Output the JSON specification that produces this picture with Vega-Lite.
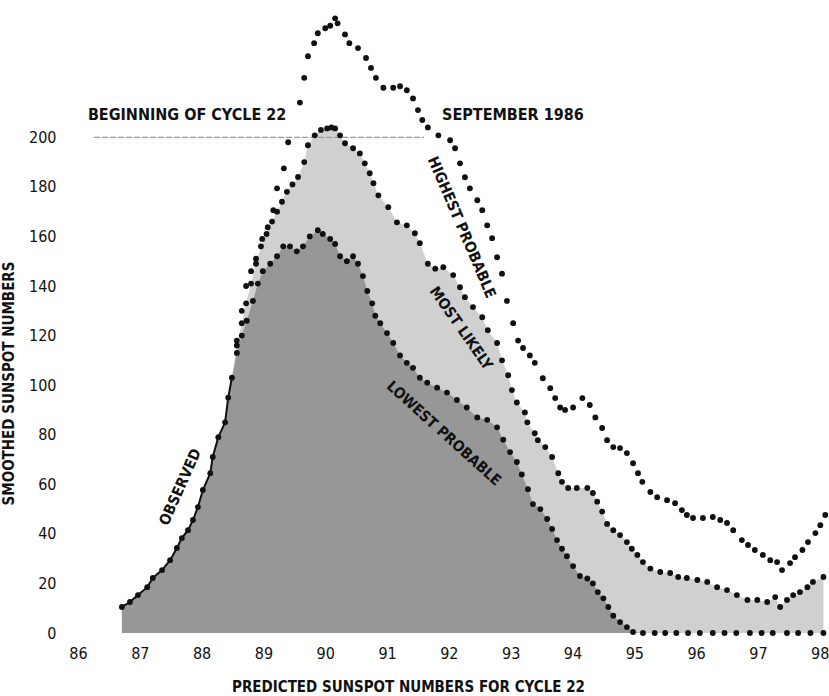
{
  "$schema": "https://vega.github.io/schema/vega-lite/v6.json",
  "width": 751,
  "height": 632,
  "autosize": {"type": "none"},
  "padding": {"left": 78, "top": 1, "right": 0, "bottom": 63},
  "background": "white",
  "config": {
    "view": {"stroke": null},
    "font": "DejaVu Sans Condensed, DejaVu Sans, sans-serif",
    "axis": {"grid": false, "domain": false, "ticks": false, "labelFont": "DejaVu Sans Condensed, DejaVu Sans, sans-serif", "labelFontSize": 16, "labelColor": "#111", "titleFont": "DejaVu Sans Condensed, DejaVu Sans, sans-serif", "titleFontSize": 15, "titleFontWeight": "bold", "titleColor": "#111"}
  },
  "datasets": {
    "pts": [
      {"s": "observed", "x": 86.71, "y": 10.5},
      {"s": "observed", "x": 86.84, "y": 12.5},
      {"s": "observed", "x": 86.97, "y": 15.3},
      {"s": "observed", "x": 87.12, "y": 18.5},
      {"s": "observed", "x": 87.21, "y": 22.2},
      {"s": "observed", "x": 87.36, "y": 25.4},
      {"s": "observed", "x": 87.49, "y": 29.4},
      {"s": "observed", "x": 87.6, "y": 34.3},
      {"s": "observed", "x": 87.68, "y": 38.3},
      {"s": "observed", "x": 87.78, "y": 41.5},
      {"s": "observed", "x": 87.86, "y": 45.6},
      {"s": "observed", "x": 87.94, "y": 50.8},
      {"s": "observed", "x": 88.02, "y": 57.7},
      {"s": "observed", "x": 88.14, "y": 64.5},
      {"s": "observed", "x": 88.18, "y": 71},
      {"s": "observed", "x": 88.27, "y": 79},
      {"s": "observed", "x": 88.38, "y": 85},
      {"s": "observed", "x": 88.43, "y": 95},
      {"s": "observed", "x": 88.49, "y": 103},

      {"s": "lowest", "x": 88.57, "y": 113},
      {"s": "lowest", "x": 88.65, "y": 120},
      {"s": "lowest", "x": 88.73, "y": 126},
      {"s": "lowest", "x": 88.83, "y": 134},
      {"s": "lowest", "x": 88.91, "y": 141},
      {"s": "lowest", "x": 88.99, "y": 146},
      {"s": "lowest", "x": 89.11, "y": 149},
      {"s": "lowest", "x": 89.22, "y": 152},
      {"s": "lowest", "x": 89.32, "y": 156},
      {"s": "lowest", "x": 89.43, "y": 156},
      {"s": "lowest", "x": 89.54, "y": 154},
      {"s": "lowest", "x": 89.64, "y": 156},
      {"s": "lowest", "x": 89.75, "y": 160},
      {"s": "lowest", "x": 89.88, "y": 162.5},
      {"s": "lowest", "x": 89.96, "y": 161},
      {"s": "lowest", "x": 90.08, "y": 159},
      {"s": "lowest", "x": 90.16, "y": 157},
      {"s": "lowest", "x": 90.24, "y": 152},
      {"s": "lowest", "x": 90.35, "y": 150},
      {"s": "lowest", "x": 90.45, "y": 152},
      {"s": "lowest", "x": 90.53, "y": 149},
      {"s": "lowest", "x": 90.61, "y": 144},
      {"s": "lowest", "x": 90.68, "y": 138},
      {"s": "lowest", "x": 90.76, "y": 133},
      {"s": "lowest", "x": 90.81, "y": 128},
      {"s": "lowest", "x": 90.89, "y": 125},
      {"s": "lowest", "x": 91.0, "y": 121},
      {"s": "lowest", "x": 91.1, "y": 117},
      {"s": "lowest", "x": 91.21, "y": 112},
      {"s": "lowest", "x": 91.32, "y": 109},
      {"s": "lowest", "x": 91.42, "y": 107},
      {"s": "lowest", "x": 91.53, "y": 103},
      {"s": "lowest", "x": 91.65, "y": 101},
      {"s": "lowest", "x": 91.81, "y": 99},
      {"s": "lowest", "x": 91.97, "y": 97},
      {"s": "lowest", "x": 92.13, "y": 94},
      {"s": "lowest", "x": 92.29, "y": 91},
      {"s": "lowest", "x": 92.46, "y": 87},
      {"s": "lowest", "x": 92.62, "y": 86},
      {"s": "lowest", "x": 92.78, "y": 83},
      {"s": "lowest", "x": 92.88, "y": 78},
      {"s": "lowest", "x": 92.99, "y": 73},
      {"s": "lowest", "x": 93.1, "y": 69},
      {"s": "lowest", "x": 93.18, "y": 64},
      {"s": "lowest", "x": 93.28, "y": 58},
      {"s": "lowest", "x": 93.36, "y": 52},
      {"s": "lowest", "x": 93.48, "y": 50},
      {"s": "lowest", "x": 93.59, "y": 46},
      {"s": "lowest", "x": 93.67, "y": 42},
      {"s": "lowest", "x": 93.75, "y": 37.5},
      {"s": "lowest", "x": 93.83, "y": 34},
      {"s": "lowest", "x": 93.91, "y": 31},
      {"s": "lowest", "x": 94.01, "y": 27},
      {"s": "lowest", "x": 94.12, "y": 23},
      {"s": "lowest", "x": 94.24, "y": 22},
      {"s": "lowest", "x": 94.33, "y": 20},
      {"s": "lowest", "x": 94.41, "y": 16.5},
      {"s": "lowest", "x": 94.5, "y": 14},
      {"s": "lowest", "x": 94.58, "y": 10.5},
      {"s": "lowest", "x": 94.66, "y": 7},
      {"s": "lowest", "x": 94.77, "y": 4.4},
      {"s": "lowest", "x": 94.88, "y": 2.4},
      {"s": "lowest", "x": 94.98, "y": 0.4},
      {"s": "lowest", "x": 95.14, "y": 0},
      {"s": "lowest", "x": 95.33, "y": 0},
      {"s": "lowest", "x": 95.5, "y": 0},
      {"s": "lowest", "x": 95.68, "y": 0},
      {"s": "lowest", "x": 95.87, "y": 0},
      {"s": "lowest", "x": 96.06, "y": 0},
      {"s": "lowest", "x": 96.27, "y": 0},
      {"s": "lowest", "x": 96.46, "y": 0},
      {"s": "lowest", "x": 96.65, "y": 0},
      {"s": "lowest", "x": 96.87, "y": 0},
      {"s": "lowest", "x": 97.06, "y": 0},
      {"s": "lowest", "x": 97.24, "y": 0},
      {"s": "lowest", "x": 97.47, "y": 0},
      {"s": "lowest", "x": 97.65, "y": 0},
      {"s": "lowest", "x": 97.85, "y": 0},
      {"s": "lowest", "x": 98.06, "y": 0},

      {"s": "likely", "x": 88.57, "y": 116},
      {"s": "likely", "x": 88.65, "y": 125},
      {"s": "likely", "x": 88.72, "y": 133},
      {"s": "likely", "x": 88.8, "y": 141},
      {"s": "likely", "x": 88.88, "y": 149},
      {"s": "likely", "x": 88.96, "y": 156},
      {"s": "likely", "x": 89.05, "y": 161},
      {"s": "likely", "x": 89.14, "y": 166},
      {"s": "likely", "x": 89.22, "y": 170},
      {"s": "likely", "x": 89.3, "y": 174},
      {"s": "likely", "x": 89.38, "y": 178},
      {"s": "likely", "x": 89.47, "y": 181},
      {"s": "likely", "x": 89.56, "y": 184},
      {"s": "likely", "x": 89.66, "y": 190},
      {"s": "likely", "x": 89.72, "y": 196.8},
      {"s": "likely", "x": 89.83, "y": 200.8},
      {"s": "likely", "x": 89.93, "y": 203},
      {"s": "likely", "x": 90.03, "y": 203.6},
      {"s": "likely", "x": 90.1, "y": 204},
      {"s": "likely", "x": 90.16, "y": 203.6},
      {"s": "likely", "x": 90.24, "y": 200.8},
      {"s": "likely", "x": 90.32, "y": 197.6},
      {"s": "likely", "x": 90.45, "y": 195.6},
      {"s": "likely", "x": 90.56, "y": 193.5},
      {"s": "likely", "x": 90.64, "y": 189.5},
      {"s": "likely", "x": 90.72, "y": 185.5},
      {"s": "likely", "x": 90.78, "y": 181.5},
      {"s": "likely", "x": 90.86, "y": 176.6},
      {"s": "likely", "x": 91.02, "y": 171.8},
      {"s": "likely", "x": 91.16, "y": 165.7},
      {"s": "likely", "x": 91.32, "y": 164.5},
      {"s": "likely", "x": 91.45, "y": 161.3},
      {"s": "likely", "x": 91.53, "y": 157.3},
      {"s": "likely", "x": 91.66, "y": 149},
      {"s": "likely", "x": 91.78, "y": 147},
      {"s": "likely", "x": 91.91, "y": 147.6},
      {"s": "likely", "x": 92.07, "y": 144.4},
      {"s": "likely", "x": 92.18, "y": 139.5},
      {"s": "likely", "x": 92.26, "y": 135.5},
      {"s": "likely", "x": 92.39, "y": 131.5},
      {"s": "likely", "x": 92.54, "y": 127.4},
      {"s": "likely", "x": 92.63, "y": 122.2},
      {"s": "likely", "x": 92.78, "y": 117},
      {"s": "likely", "x": 92.86, "y": 110},
      {"s": "likely", "x": 92.96, "y": 104},
      {"s": "likely", "x": 93.02, "y": 98},
      {"s": "likely", "x": 93.1, "y": 93},
      {"s": "likely", "x": 93.23, "y": 89},
      {"s": "likely", "x": 93.27, "y": 85},
      {"s": "likely", "x": 93.39, "y": 80.6},
      {"s": "likely", "x": 93.44, "y": 77.8},
      {"s": "likely", "x": 93.56, "y": 75},
      {"s": "likely", "x": 93.67, "y": 71},
      {"s": "likely", "x": 93.77, "y": 64.5},
      {"s": "likely", "x": 93.83, "y": 61},
      {"s": "likely", "x": 93.93, "y": 58.5},
      {"s": "likely", "x": 94.07, "y": 58.5},
      {"s": "likely", "x": 94.24, "y": 58.5},
      {"s": "likely", "x": 94.33, "y": 56.5},
      {"s": "likely", "x": 94.4, "y": 53},
      {"s": "likely", "x": 94.48, "y": 49},
      {"s": "likely", "x": 94.56, "y": 44},
      {"s": "likely", "x": 94.66, "y": 41.5},
      {"s": "likely", "x": 94.77, "y": 39.5},
      {"s": "likely", "x": 94.88, "y": 36.7},
      {"s": "likely", "x": 94.96, "y": 34},
      {"s": "likely", "x": 95.05, "y": 31.5},
      {"s": "likely", "x": 95.14, "y": 28.6},
      {"s": "likely", "x": 95.26, "y": 26},
      {"s": "likely", "x": 95.42, "y": 24.6},
      {"s": "likely", "x": 95.58, "y": 24.2},
      {"s": "likely", "x": 95.71, "y": 22.6},
      {"s": "likely", "x": 95.85, "y": 22.2},
      {"s": "likely", "x": 96.02, "y": 21.4},
      {"s": "likely", "x": 96.18, "y": 20.6},
      {"s": "likely", "x": 96.34, "y": 18.5},
      {"s": "likely", "x": 96.5, "y": 17.3},
      {"s": "likely", "x": 96.66, "y": 15.3},
      {"s": "likely", "x": 96.83, "y": 13.3},
      {"s": "likely", "x": 96.99, "y": 13.3},
      {"s": "likely", "x": 97.15, "y": 12.5},
      {"s": "likely", "x": 97.28, "y": 14.5},
      {"s": "likely", "x": 97.36, "y": 10.5},
      {"s": "likely", "x": 97.47, "y": 13.3},
      {"s": "likely", "x": 97.57, "y": 15.3},
      {"s": "likely", "x": 97.68, "y": 16.5},
      {"s": "likely", "x": 97.8, "y": 18.5},
      {"s": "likely", "x": 97.89, "y": 20.6},
      {"s": "likely", "x": 98.06, "y": 22.6},

      {"s": "highest", "x": 88.57, "y": 118},
      {"s": "highest", "x": 88.65, "y": 130},
      {"s": "highest", "x": 88.72, "y": 140},
      {"s": "highest", "x": 88.8, "y": 146},
      {"s": "highest", "x": 88.88, "y": 151},
      {"s": "highest", "x": 88.98, "y": 159},
      {"s": "highest", "x": 89.07, "y": 163.7},
      {"s": "highest", "x": 89.16, "y": 170.6},
      {"s": "highest", "x": 89.22, "y": 179.4},
      {"s": "highest", "x": 89.33, "y": 187.5},
      {"s": "highest", "x": 89.4, "y": 198},
      {"s": "highest", "x": 89.59, "y": 214},
      {"s": "highest", "x": 89.66, "y": 224},
      {"s": "highest", "x": 89.72, "y": 232.7},
      {"s": "highest", "x": 89.82, "y": 238},
      {"s": "highest", "x": 89.88, "y": 242},
      {"s": "highest", "x": 90.0, "y": 244},
      {"s": "highest", "x": 90.08, "y": 245},
      {"s": "highest", "x": 90.16, "y": 248},
      {"s": "highest", "x": 90.2, "y": 246},
      {"s": "highest", "x": 90.32, "y": 241.5},
      {"s": "highest", "x": 90.39, "y": 238},
      {"s": "highest", "x": 90.53, "y": 236},
      {"s": "highest", "x": 90.66, "y": 232},
      {"s": "highest", "x": 90.74, "y": 228},
      {"s": "highest", "x": 90.82, "y": 224},
      {"s": "highest", "x": 90.94, "y": 220},
      {"s": "highest", "x": 91.1, "y": 220},
      {"s": "highest", "x": 91.21, "y": 220.6},
      {"s": "highest", "x": 91.32, "y": 219},
      {"s": "highest", "x": 91.42, "y": 215.7},
      {"s": "highest", "x": 91.5, "y": 211},
      {"s": "highest", "x": 91.57, "y": 207},
      {"s": "highest", "x": 91.66, "y": 204},
      {"s": "highest", "x": 91.83, "y": 200.8},
      {"s": "highest", "x": 92.02, "y": 198.8},
      {"s": "highest", "x": 92.1, "y": 195.6},
      {"s": "highest", "x": 92.18, "y": 189.5},
      {"s": "highest", "x": 92.26, "y": 183.9},
      {"s": "highest", "x": 92.34, "y": 179.4},
      {"s": "highest", "x": 92.46, "y": 174.6},
      {"s": "highest", "x": 92.54, "y": 170.6},
      {"s": "highest", "x": 92.62, "y": 164.5},
      {"s": "highest", "x": 92.7, "y": 159.3},
      {"s": "highest", "x": 92.78, "y": 151.6},
      {"s": "highest", "x": 92.86, "y": 145},
      {"s": "highest", "x": 92.94, "y": 134},
      {"s": "highest", "x": 93.04, "y": 125},
      {"s": "highest", "x": 93.12, "y": 118},
      {"s": "highest", "x": 93.2, "y": 115},
      {"s": "highest", "x": 93.31, "y": 112},
      {"s": "highest", "x": 93.39, "y": 109},
      {"s": "highest", "x": 93.52, "y": 102.8},
      {"s": "highest", "x": 93.64, "y": 98.8},
      {"s": "highest", "x": 93.72, "y": 94.8},
      {"s": "highest", "x": 93.8, "y": 91},
      {"s": "highest", "x": 93.88, "y": 90},
      {"s": "highest", "x": 94.01, "y": 91},
      {"s": "highest", "x": 94.16, "y": 94.8},
      {"s": "highest", "x": 94.28, "y": 92},
      {"s": "highest", "x": 94.37, "y": 87},
      {"s": "highest", "x": 94.48, "y": 82.7},
      {"s": "highest", "x": 94.56, "y": 77.8},
      {"s": "highest", "x": 94.66, "y": 75},
      {"s": "highest", "x": 94.77, "y": 74.6},
      {"s": "highest", "x": 94.88, "y": 72.6},
      {"s": "highest", "x": 94.98, "y": 68.5},
      {"s": "highest", "x": 95.06, "y": 64.5},
      {"s": "highest", "x": 95.13, "y": 61},
      {"s": "highest", "x": 95.26, "y": 56.9},
      {"s": "highest", "x": 95.37, "y": 54.8},
      {"s": "highest", "x": 95.53, "y": 53.6},
      {"s": "highest", "x": 95.66, "y": 52.4},
      {"s": "highest", "x": 95.77, "y": 49.6},
      {"s": "highest", "x": 95.85, "y": 47.6},
      {"s": "highest", "x": 95.95, "y": 46.4},
      {"s": "highest", "x": 96.11, "y": 46.4},
      {"s": "highest", "x": 96.27, "y": 46.8},
      {"s": "highest", "x": 96.39, "y": 45.6},
      {"s": "highest", "x": 96.5, "y": 44.4},
      {"s": "highest", "x": 96.6, "y": 41.5},
      {"s": "highest", "x": 96.74, "y": 37.5},
      {"s": "highest", "x": 96.84, "y": 35.5},
      {"s": "highest", "x": 96.95, "y": 33.5},
      {"s": "highest", "x": 97.08, "y": 31.5},
      {"s": "highest", "x": 97.2, "y": 29.4},
      {"s": "highest", "x": 97.31, "y": 28.6},
      {"s": "highest", "x": 97.39, "y": 25.4},
      {"s": "highest", "x": 97.52, "y": 28.2},
      {"s": "highest", "x": 97.6, "y": 30.6},
      {"s": "highest", "x": 97.72, "y": 33.5},
      {"s": "highest", "x": 97.81, "y": 36.7},
      {"s": "highest", "x": 97.93, "y": 40.3},
      {"s": "highest", "x": 98.01, "y": 43.5},
      {"s": "highest", "x": 98.09, "y": 47.6}
    ],
    "headers": [
      {"t": "BEGINNING OF CYCLE 22", "x": 86.16, "y": 209},
      {"t": "SEPTEMBER 1986", "x": 91.89, "y": 209}
    ],
    "labels": [
      {"t": "HIGHEST PROBABLE", "x": 92.21, "y": 163.7, "a": 67},
      {"t": "MOST LIKELY", "x": 92.2, "y": 123, "a": 55},
      {"t": "LOWEST PROBABLE", "x": 91.92, "y": 80.6, "a": 42},
      {"t": "OBSERVED", "x": 87.65, "y": 58.9, "a": -66}
    ]
  },
  "layer": [
    {
      "data": {"name": "pts"},
      "transform": [{"filter": {"field": "s", "oneOf": ["observed", "likely"]}}],
      "mark": {"type": "area", "color": "#d0d0d0"},
      "encoding": {
        "x": {"field": "x", "type": "quantitative", "scale": {"domain": [86, 98.15], "nice": false, "zero": false}, "axis": {"values": [86, 87, 88, 89, 90, 91, 92, 93, 94, 95, 96, 97, 98], "format": "d", "labelPadding": 12, "labelFlush": false, "title": "PREDICTED SUNSPOT NUMBERS FOR CYCLE 22", "titlePadding": 18, "titleX": 330}},
        "y": {"field": "y", "type": "quantitative", "scale": {"domain": [0, 255], "nice": false}, "axis": {"values": [0, 20, 40, 60, 80, 100, 120, 140, 160, 180, 200], "labelPadding": 22, "title": "SMOOTHED SUNSPOT NUMBERS", "titleY": 382, "titleX": -62}}
      }
    },
    {
      "data": {"name": "pts"},
      "transform": [{"filter": {"field": "s", "oneOf": ["observed", "lowest"]}}],
      "mark": {"type": "area", "color": "#979797"},
      "encoding": {
        "x": {"field": "x", "type": "quantitative"},
        "y": {"field": "y", "type": "quantitative"}
      }
    },
    {
      "data": {"values": [{"x": 86.26, "x2": 91.6, "y": 200}]},
      "mark": {"type": "rule", "color": "#999999", "strokeWidth": 1.2, "strokeDash": [6, 2]},
      "encoding": {
        "x": {"field": "x", "type": "quantitative"},
        "x2": {"field": "x2"},
        "y": {"field": "y", "type": "quantitative"}
      }
    },
    {
      "data": {"name": "pts"},
      "transform": [{"filter": {"field": "s", "equal": "observed"}}],
      "mark": {"type": "line", "color": "#111111", "strokeWidth": 2},
      "encoding": {
        "x": {"field": "x", "type": "quantitative"},
        "y": {"field": "y", "type": "quantitative"}
      }
    },
    {
      "data": {"name": "pts"},
      "mark": {"type": "circle", "color": "#111111", "size": 34, "opacity": 1},
      "encoding": {
        "x": {"field": "x", "type": "quantitative"},
        "y": {"field": "y", "type": "quantitative"}
      }
    },
    {
      "data": {"name": "headers"},
      "mark": {"type": "text", "fontWeight": "bold", "fontSize": 16, "color": "#111111", "baseline": "middle", "align": "left"},
      "encoding": {
        "x": {"field": "x", "type": "quantitative"},
        "y": {"field": "y", "type": "quantitative"},
        "text": {"field": "t"}
      }
    },
    {
      "data": {"name": "labels"},
      "mark": {"type": "text", "fontWeight": "bold", "fontSize": 15, "color": "#111111", "baseline": "middle", "align": "center"},
      "encoding": {
        "x": {"field": "x", "type": "quantitative"},
        "y": {"field": "y", "type": "quantitative"},
        "text": {"field": "t"},
        "angle": {"field": "a", "type": "quantitative", "scale": null}
      }
    }
  ]
}
